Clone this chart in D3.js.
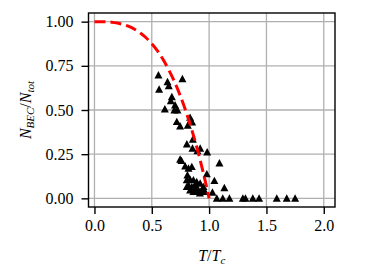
<!DOCTYPE html>
<html><head><meta charset="utf-8">
<script src="https://cdn.jsdelivr.net/npm/d3@7"></script>
<style>body{margin:0;background:#fff}svg{display:block}svg text{font-family:"Liberation Serif",serif}</style>
</head><body>
<svg id="c" width="373" height="272"></svg>
<script>
// ---- data ----
const xTicks = [0.0, 0.5, 1.0, 1.5, 2.0];
const yTicks = [0.00, 0.25, 0.50, 0.75, 1.00];
const xTickLabels = ["0.0", "0.5", "1.0", "1.5", "2.0"];
const yTickLabels = ["0.00", "0.25", "0.50", "0.75", "1.00"];
// theory curve samples (T/Tc, N_BEC/N_tot)
const curveT = [0,0.05,0.1,0.15,0.2,0.25,0.3,0.35,0.4,0.45,0.5,0.55,0.6,0.65,0.7,0.75,0.8,0.85,0.9,0.95,1.0];
const curveF = [1.0,1.0,0.999,0.997,0.992,0.984,0.973,0.957,0.936,0.909,0.875,0.834,0.784,0.725,0.657,0.578,0.488,0.386,0.271,0.143,0.0];
// measured points
const ptsT = [0.558,0.637,0.767,0.564,0.648,0.675,0.666,0.703,0.614,0.697,0.724,0.834,0.852,0.718,0.747,0.814,
  0.858,0.806,0.855,0.922,0.898,0.983,0.747,0.759,1.09,0.791,0.849,0.82,0.98,0.811,1.046,1.133,1.029,
  0.805,0.834,0.863,0.892,0.922,0.951,0.82,0.849,0.878,0.907,0.936,0.965,0.834,0.863,0.892,0.805,0.878,0.92,
  1.067,1.119,1.177,1.294,1.317,1.381,1.436,1.59,1.677,1.75];
const ptsF = [0.698,0.66,0.677,0.617,0.637,0.575,0.552,0.528,0.505,0.5,0.5,0.458,0.432,0.434,0.409,0.413,
  0.334,0.307,0.283,0.283,0.269,0.262,0.221,0.213,0.2,0.183,0.179,0.17,0.138,0.132,0.1,0.06,0.034,
  0.104,0.107,0.104,0.094,0.085,0.066,0.075,0.066,0.056,0.047,0.047,0.038,0.047,0.038,0.038,0.066,0.075,0.03,
  0,0,0,0,0,0,0,0,0,0];

// ---- layout ----
const svg = d3.select("#c");
const L = 88.5, R = 335, T = 13, B = 207;
const x = d3.scaleLinear().domain([-0.052, 2.098]).range([L, R]);
const y = d3.scaleLinear().domain([-0.049, 1.049]).range([B, T]);
const font = "'Liberation Serif', serif";

// grid
const g = svg.append("g");
g.selectAll(".gx").data(xTicks).join("line")
  .attr("x1", d => x(d)).attr("x2", d => x(d)).attr("y1", T).attr("y2", B)
  .attr("stroke", "#b0b0b0").attr("stroke-width", 1.3);
g.selectAll(".gy").data(yTicks).join("line")
  .attr("y1", d => y(d)).attr("y2", d => y(d)).attr("x1", L).attr("x2", R)
  .attr("stroke", "#b0b0b0").attr("stroke-width", 1.3);

// points
const tri = "M0,-4L4,3.4L-4,3.4Z";
svg.append("g").selectAll("path").data(ptsT.map((t, i) => [t, ptsF[i]])).join("path")
  .attr("d", tri).attr("transform", d => `translate(${x(d[0])},${y(d[1])})`)
  .attr("fill", "#000");

// curve
svg.append("path")
  .datum(curveT.map((t, i) => [t, curveF[i]]))
  .attr("d", d3.line().x(d => x(d[0])).y(d => y(d[1])).curve(d3.curveMonotoneX))
  .attr("fill", "none").attr("stroke", "#ff0000").attr("stroke-width", 3)
  .attr("stroke-dasharray", "11,5");

// frame
svg.append("rect").attr("x", L).attr("y", T).attr("width", R - L).attr("height", B - T)
  .attr("fill", "none").attr("stroke", "#000").attr("stroke-width", 1.4);

// axes
const xa = svg.append("g").attr("transform", `translate(0,${B})`)
  .call(d3.axisBottom(x).tickValues(xTicks).tickFormat((d, i) => xTickLabels[i]).tickSize(7).tickPadding(6));
const ya = svg.append("g").attr("transform", `translate(${L},0)`)
  .call(d3.axisLeft(y).tickValues(yTicks).tickFormat((d, i) => yTickLabels[i]).tickSize(7).tickPadding(8));
[xa, ya].forEach(a => {
  a.attr("font-family", null).attr("font-size", null);
  a.select(".domain").remove();
  a.selectAll("line").attr("stroke", "#000").attr("stroke-width", 1.4);
  a.selectAll("text").style("font-family", font).style("font-size", "16px").attr("fill", "#000");
});

// axis labels
const xl = svg.append("text").attr("x", (L + R) / 2).attr("y", 261).attr("text-anchor", "middle")
  .style("font-family", font).style("font-size", "16px").style("font-style", "italic");
xl.append("tspan").text("T");
xl.append("tspan").style("font-style", "normal").text("/");
xl.append("tspan").text("T");
xl.append("tspan").style("font-size", "11px").attr("dy", 3).text("c");

const yl = svg.append("text").attr("transform", `translate(31,${(T + B) / 2}) rotate(-90)`)
  .attr("text-anchor", "middle").style("font-family", font).style("font-size", "16px").style("font-style", "italic");
yl.append("tspan").text("N");
yl.append("tspan").style("font-size", "11px").attr("dy", 3).text("BEC");
yl.append("tspan").style("font-style", "normal").attr("dy", -3).text("/");
yl.append("tspan").text("N");
yl.append("tspan").style("font-size", "11px").attr("dy", 3).text("tot");
</script>
</body></html>
